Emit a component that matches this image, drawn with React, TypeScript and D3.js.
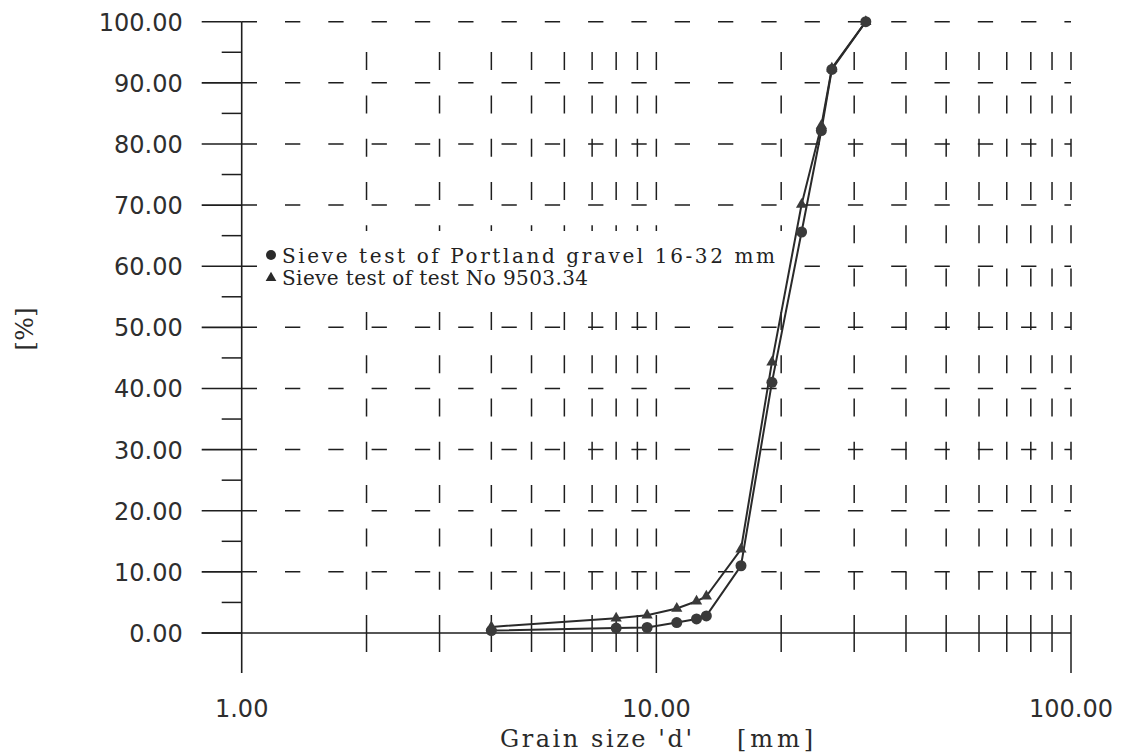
import React from 'react';
import * as d3 from 'd3';

// Sieve sizes [mm]
const sieveSizes = [4, 8, 9.5, 11.2, 12.5, 13.2, 16, 19, 22.4, 25, 26.5, 32];
// Passing [%]
const portlandPassing = [0.4, 0.8, 0.9, 1.7, 2.3, 2.8, 11.0, 41.0, 65.6, 82.2, 92.2, 100];
const testPassing = [1.0, 2.4, 2.9, 4.0, 5.2, 6.0, 13.7, 44.3, 70.1, 83.0, 92.4, 100];

const seriesNames = ['Sieve test of Portland gravel 16-32 mm', 'Sieve test of test No 9503.34'];

const yMajorTicks = [0, 10, 20, 30, 40, 50, 60, 70, 80, 90, 100];
const yMinorTicks = [5, 15, 25, 35, 45, 55, 65, 75, 85, 95];
const xGridValues = [2, 3, 4, 5, 6, 7, 8, 9, 10, 20, 30, 40, 50, 60, 70, 80, 90, 100];
const xLabelValues = [1, 10, 100];

const INK = '#1e1e1e';

export default function App() {
  const W = 1123;
  const H = 756;
  const x = d3.scaleLog().domain([1, 100]).range([241.7, 1071]);
  const y = d3.scaleLinear().domain([0, 100]).range([633, 21.7]);

  const line = d3
    .line<number>()
    .x((_, i) => x(sieveSizes[i]))
    .y((d) => y(d));

  const tri = d3.symbol(d3.symbolTriangle, 55)();
  const triSmall = d3.symbol(d3.symbolTriangle, 50)();

  const labelFont = '"DejaVu Sans", Verdana, sans-serif';
  const serifFont = '"DejaVu Serif", "Liberation Serif", serif';

  return (
    <svg width={W} height={H} style={{ position: 'absolute', left: 0, top: 0, background: '#fff' }}>
      <rect x={0} y={0} width={W} height={H} fill="#fff" />

      {/* horizontal dashed grid */}
      {yMajorTicks
        .filter((v) => v > 0)
        .map((v) => (
          <path
            key={'hg' + v}
            d={`M${x(1)},${y(v)}H${x(100)}`}
            stroke={INK}
            strokeWidth={1.5}
            strokeDasharray="15.3 28"
            fill="none"
          />
        ))}

      {/* vertical dashed grid */}
      {xGridValues.map((v) => (
        <path
          key={'vg' + v}
          d={`M${x(v)},${y(0)}V${y(99)}`}
          stroke={INK}
          strokeWidth={1.5}
          strokeDasharray="18 25.3"
          fill="none"
        />
      ))}

      {/* x axis */}
      <path d={`M${x(1) - 40},${y(0)}H${x(100)}`} stroke={INK} strokeWidth={1.6} fill="none" />
      {xGridValues.map((v) => (
        <path
          key={'xt' + v}
          d={`M${x(v)},${y(0)}v${v === 10 || v === 100 ? 40 : 19}`}
          stroke={INK}
          strokeWidth={1.5}
        />
      ))}

      {/* y axis */}
      <path d={`M${x(1)},${y(100)}V${y(0) + 40}`} stroke={INK} strokeWidth={1.6} fill="none" />
      {yMajorTicks.map((v) => (
        <path key={'ymt' + v} d={`M${x(1) - 40},${y(v)}H${x(1)}`} stroke={INK} strokeWidth={1.6} />
      ))}
      {yMinorTicks.map((v) => (
        <path key={'ymn' + v} d={`M${x(1) - 20},${y(v)}H${x(1)}`} stroke={INK} strokeWidth={1.5} />
      ))}

      {/* y tick labels */}
      {yMajorTicks.map((v) => (
        <text
          key={'yl' + v}
          x={x(1) - 59}
          y={y(v) + 9}
          textAnchor="end"
          fontFamily={labelFont}
          fontSize={24}
          fill="#2e2e2e"
        >
          {d3.format('.2f')(v)}
        </text>
      ))}

      {/* x tick labels */}
      {xLabelValues.map((v) => (
        <text
          key={'xl' + v}
          x={x(v)}
          y={717}
          textAnchor="middle"
          fontFamily={labelFont}
          fontSize={24}
          fill="#2e2e2e"
        >
          {d3.format('.2f')(v)}
        </text>
      ))}

      {/* axis titles */}
      <text x={500} y={747} fontFamily={serifFont} fontSize={24} fill="#2a2a2a" textLength={192} lengthAdjust="spacing">
        Grain size 'd'
      </text>
      <text x={737} y={747} fontFamily={serifFont} fontSize={24} fill="#2a2a2a" textLength={76} lengthAdjust="spacing">
        [mm]
      </text>
      <text
        transform="translate(33,329) rotate(-90)"
        textAnchor="middle"
        fontFamily={serifFont}
        fontSize={25}
        fill="#2a2a2a"
      >
        [%]
      </text>

      {/* legend box (blanks the grid behind it) */}
      <rect x={259} y={231} width={526} height={61} fill="#fff" />

      {/* data lines */}
      <path d={line(testPassing) || ''} stroke="#2a2a2a" strokeWidth={2} fill="none" />
      <path d={line(portlandPassing) || ''} stroke="#2a2a2a" strokeWidth={2} fill="none" />

      {testPassing.map((v, i) => (
        <path key={'tm' + i} d={tri || ''} transform={`translate(${x(sieveSizes[i])},${y(v)})`} fill="#3a3a3a" />
      ))}
      {portlandPassing.map((v, i) => (
        <circle key={'pm' + i} cx={x(sieveSizes[i])} cy={y(v)} r={5.5} fill="#3a3a3a" />
      ))}

      {/* legend */}
      <circle cx={271} cy={255} r={5} fill="#2a2a2a" />
      <text x={282} y={263} fontFamily={serifFont} fontSize={20} fill="#222" textLength={493} lengthAdjust="spacing">
        {seriesNames[0]}
      </text>
      <path d={triSmall || ''} transform="translate(271,278)" fill="#2a2a2a" />
      <text x={282} y={285} fontFamily={serifFont} fontSize={20} fill="#222" textLength={306} lengthAdjust="spacing">
        {seriesNames[1]}
      </text>
    </svg>
  );
}
